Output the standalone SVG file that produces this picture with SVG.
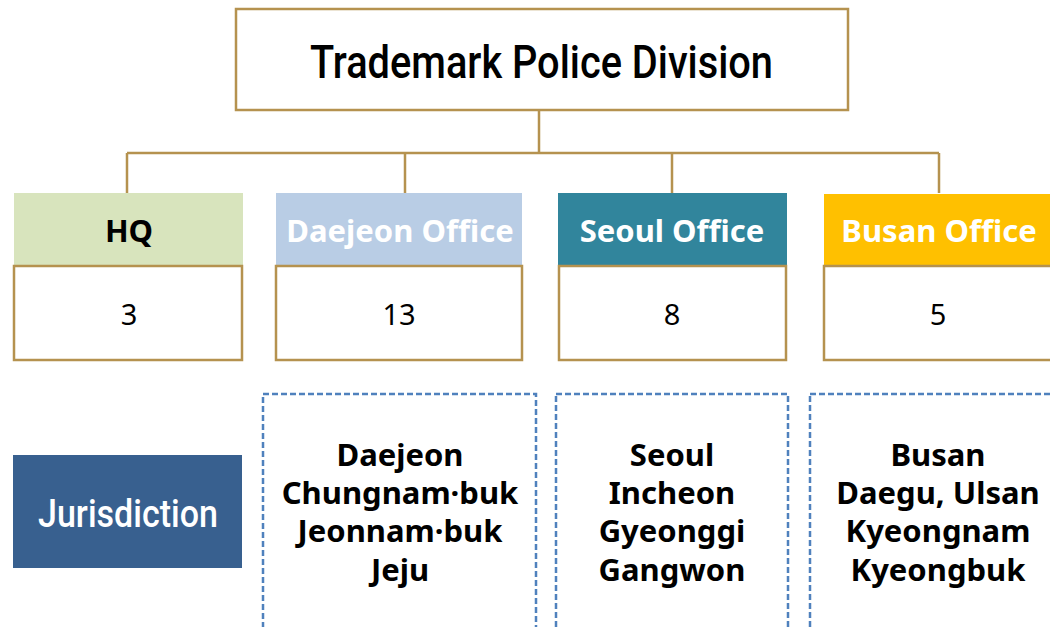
<svg xmlns="http://www.w3.org/2000/svg" width="1050" height="627" viewBox="0 0 1050 627">
<style>
.box{fill:#fff;stroke:#B5924F;stroke-width:2.5}
.conn{fill:none;stroke:#B5924F;stroke-width:2.5}
.dash{fill:none;stroke:#4F81BD;stroke-width:2.5;stroke-dasharray:6 3}
.hd{font-family:"Noto Sans","Noto Sans CJK KR",sans-serif;font-weight:bold;font-size:31px;text-anchor:middle}
.num{font-family:"Noto Sans","Noto Sans CJK KR",sans-serif;font-size:29px;text-anchor:middle;fill:#000}
.jur{font-family:"Noto Sans","Noto Sans CJK KR",sans-serif;font-weight:bold;font-size:31px;text-anchor:middle;fill:#000}
.cond{font-family:Roboto,"Liberation Sans",sans-serif;font-weight:500}
</style>
<g id="connectors">
<path class="conn" d="M539,110 V153 M127,153 H939 M127,153 V193 M405,153 V193 M672,153 V193 M939,153 V193"/>
</g>
<g id="title">
<rect class="box" x="236" y="9" width="612" height="101"/>
<text class="cond" x="310" y="78" font-size="46" textLength="463" lengthAdjust="spacingAndGlyphs" fill="#000">Trademark Police Division</text>
</g>
<g id="hq">
<rect x="14" y="193" width="229" height="72" fill="#D8E4BD"/>
<text class="hd" x="129" y="242" fill="#000">HQ</text>
<rect class="box" x="14" y="266" width="228" height="94"/>
<text class="num" x="129" y="325">3</text>
</g>
<g id="daejeon">
<rect x="276" y="193" width="246" height="72" fill="#B9CDE5"/>
<text class="hd" x="400" y="242" fill="#fff">Daejeon Office</text>
<rect class="box" x="276" y="266" width="246" height="94"/>
<text class="num" x="399" y="325">13</text>
</g>
<g id="seoul">
<rect x="558" y="193" width="229" height="72" fill="#31859C"/>
<text class="hd" x="672" y="242" fill="#fff">Seoul Office</text>
<rect class="box" x="559" y="266" width="227" height="94"/>
<text class="num" x="672" y="325">8</text>
</g>
<g id="busan">
<rect x="824" y="194" width="230" height="71" fill="#FFC000"/>
<text class="hd" x="939" y="242" fill="#fff">Busan Office</text>
<rect class="box" x="824" y="266" width="230" height="94"/>
<text class="num" x="938" y="325">5</text>
</g>
<g id="jurisdiction">
<rect x="13" y="455" width="229" height="113" fill="#38608F"/>
<text class="cond" x="38" y="527" font-size="38" textLength="180" lengthAdjust="spacingAndGlyphs" fill="#fff" font-weight="400">Jurisdiction</text>
</g>
<g id="jur-daejeon">
<rect class="dash" x="263" y="394" width="273" height="240"/>
<text class="jur" x="400"><tspan x="400" y="466">Daejeon</tspan><tspan x="400" y="504">Chungnam·buk</tspan><tspan x="400" y="542">Jeonnam·buk</tspan><tspan x="400" y="581">Jeju</tspan></text>
</g>
<g id="jur-seoul">
<rect class="dash" x="556" y="394" width="232" height="240"/>
<text class="jur" x="672"><tspan x="672" y="466">Seoul</tspan><tspan x="672" y="504">Incheon</tspan><tspan x="672" y="542">Gyeonggi</tspan><tspan x="672" y="581">Gangwon</tspan></text>
</g>
<g id="jur-busan">
<rect class="dash" x="810" y="394" width="250" height="240"/>
<text class="jur" x="938"><tspan x="938" y="466">Busan</tspan><tspan x="938" y="504">Daegu, Ulsan</tspan><tspan x="938" y="542">Kyeongnam</tspan><tspan x="938" y="581">Kyeongbuk</tspan></text>
</g>
</svg>
